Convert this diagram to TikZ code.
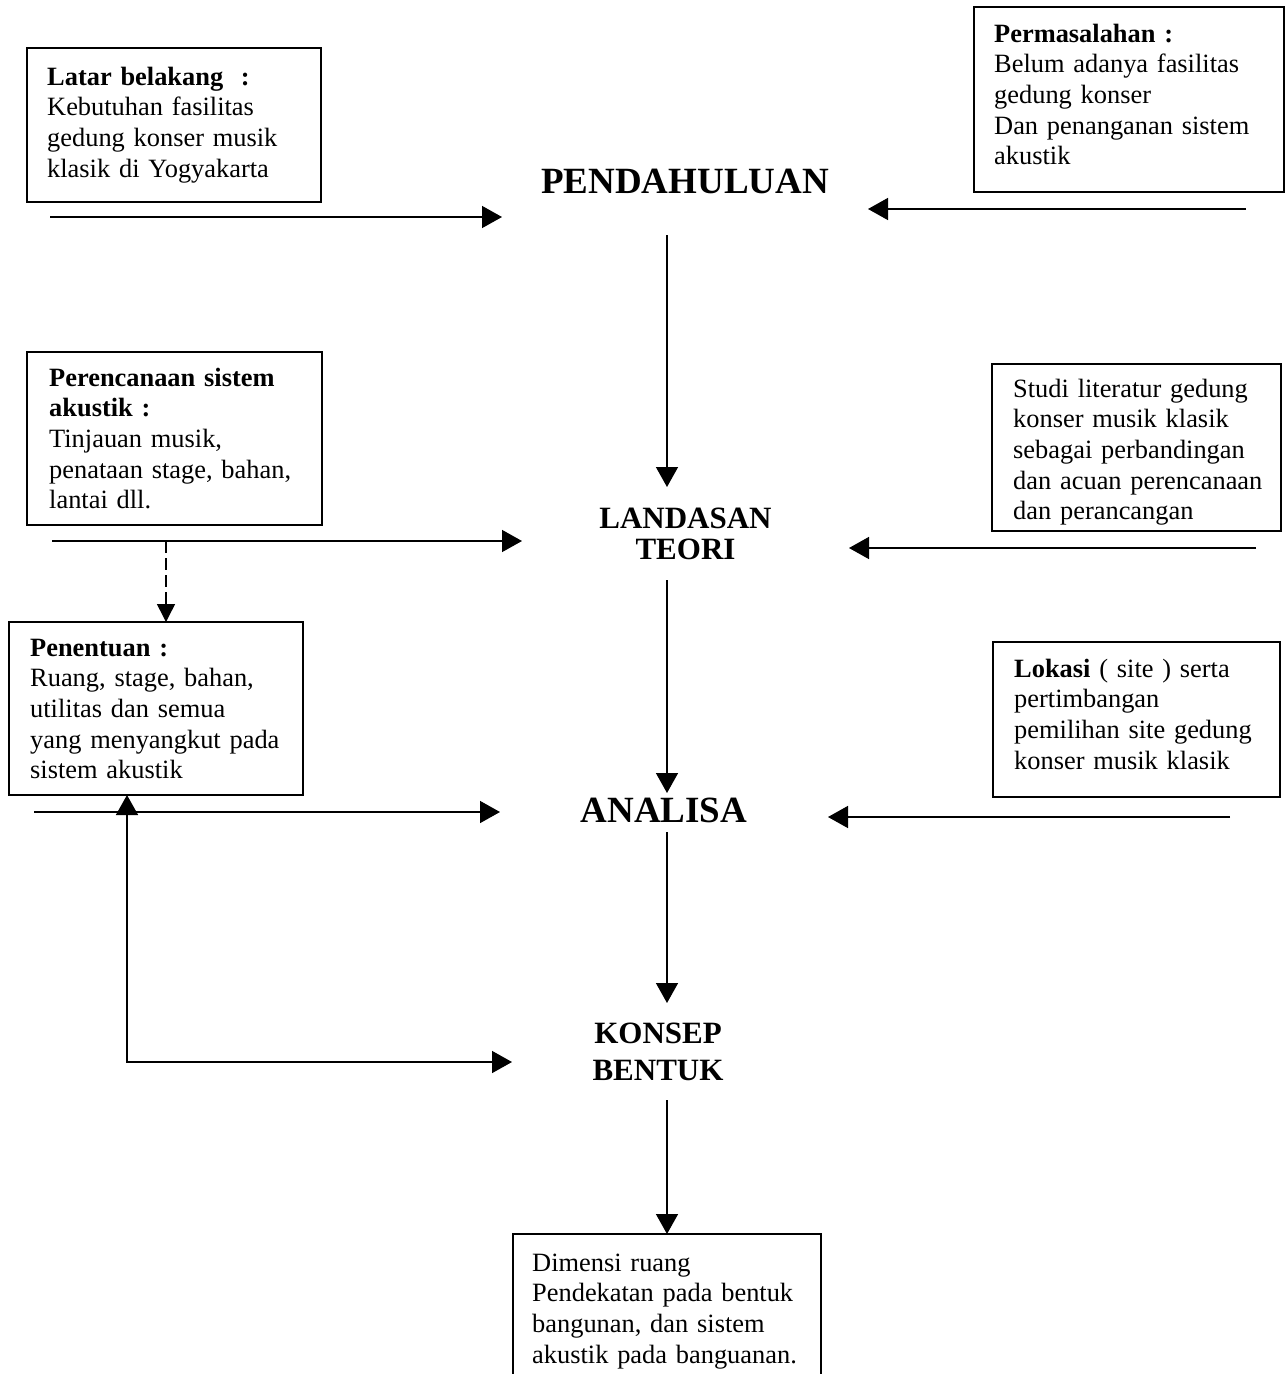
\documentclass[tikz,border=0pt]{standalone}
\usepackage{fontspec}
\setmainfont{Liberation Serif}
\usetikzlibrary{arrows.meta}
\begin{document}
\begin{tikzpicture}[x=1pt,y=-1pt,
  box/.style={draw, line width=1.4pt, inner sep=0pt, outer sep=0pt},
  txt/.style={font=\fontsize{26.4}{30.7}\selectfont, anchor=base west, inner sep=0pt, align=left, text width=#1},
  bigtitle/.style={font=\bfseries\fontsize{37}{40}\selectfont, inner sep=0pt, outer sep=0pt, align=center},
  midtitle/.style={font=\bfseries\fontsize{31}{#1}\selectfont, inner sep=0pt, outer sep=0pt, align=center},
  arr/.style={line width=1.5pt, -{Triangle[length=20pt,width=22pt]}},
  arrboth/.style={line width=1.5pt, {Triangle[length=20pt,width=22pt]}-{Triangle[length=20pt,width=22pt]}},
  dasharr/.style={line width=1.5pt, dash pattern=on 12pt off 5pt, -{Triangle[length=18pt,width=18pt]}}
]
\useasboundingbox (0,0) rectangle (1287,1374);
\clip (0,0) rectangle (1287,1374);

% boxes
\node[box, minimum width=294pt, minimum height=154pt] (lb) at (174,125) {};
\node[box, minimum width=310pt, minimum height=185pt] (pm) at (1129,99.5) {};
\node[box, minimum width=295pt, minimum height=173pt] (pr) at (174.5,438.5) {};
\node[box, minimum width=289pt, minimum height=167pt] (st) at (1136.5,447.5) {};
\node[box, minimum width=294pt, minimum height=173pt] (pn) at (156,708.5) {};
\node[box, minimum width=287pt, minimum height=155pt] (lk) at (1136.5,719.5) {};
\node[box, minimum width=308pt, minimum height=160pt] (dm) at (667,1314) {};

% box texts
\node[txt=270pt] (t1) at (47,85) {\textbf{Latar belakang \ :}\\Kebutuhan fasilitas\\gedung konser musik\\klasik di Yogyakarta};
\node[txt=285pt] (t2) at (994,42) {\textbf{Permasalahan :}\\Belum adanya fasilitas\\gedung konser\\Dan penanganan sistem\\akustik};
\node[txt=270pt] (t3) at (49,386) {\textbf{Perencanaan sistem}\\\textbf{akustik :}\\Tinjauan musik,\\penataan stage, bahan,\\lantai dll.};
\node[txt=266pt] (t4) at (1013,397) {Studi literatur gedung\\konser musik klasik\\sebagai perbandingan\\dan acuan perencanaan\\dan perancangan};
\node[txt=270pt] (t5) at (30,656) {\textbf{Penentuan :}\\Ruang, stage, bahan,\\utilitas dan semua\\yang menyangkut pada\\sistem akustik};
\node[txt=264pt] (t6) at (1014,677) {\textbf{Lokasi} ( site ) serta\\pertimbangan\\pemilihan site gedung\\konser musik klasik};
\node[txt=285pt] (t7) at (532,1271) {Dimensi ruang\\Pendekatan pada bentuk\\bangunan, dan sistem\\akustik pada banguanan.};

% titles
\node[bigtitle, minimum width=366pt, minimum height=108pt] (pend) at (685,181) {PENDAHULUAN};
\node[midtitle=31pt, minimum width=327pt, minimum height=93pt] (land) at (685.5,533.5) {LANDASAN\\TEORI};
\node[bigtitle, text depth=4pt, minimum width=328pt, minimum height=39pt] (anal) at (664,812.5) {ANALISA};
\node[midtitle=37pt, minimum width=292pt, minimum height=97pt] (kons) at (658,1051.5) {KONSEP\\BENTUK};

% spine
\coordinate (spine) at (667,0);
\draw[arr] (pend.south -| spine) -- (land.north -| spine);
\draw[arr] (land.south -| spine) -- (anal.north -| spine);
\draw[arr] (anal.south -| spine) -- (kons.north -| spine);
\draw[arr] (kons.south -| spine) -- (dm.north -| spine);

% side inputs
\coordinate (a1) at (50,217);
\coordinate (a2) at (1246,209);
\coordinate (a3) at (52,541);
\coordinate (a4) at (1256,548);
\coordinate (a5) at (34,812);
\coordinate (a6) at (1230,817);
\draw[arr] (a1) -- (a1 -| pend.west);
\draw[arr] (a2) -- (a2 -| pend.east);
\draw[arr] (a3) -- (a3 -| land.west);
\draw[arr] (a4) -- (a4 -| land.east);
\draw[arr] (a5) -- (a5 -| anal.west);
\draw[arr] (a6) -- (a6 -| anal.east);

% dashed branch
\coordinate (dj) at (166,541);
\draw[dasharr] (dj) -- (dj |- pn.north);

% feedback
\coordinate (fb) at (127,1062);
\draw[arrboth] (pn.south -| fb) -- (fb) -- (fb -| kons.west);
\end{tikzpicture}
\end{document}
